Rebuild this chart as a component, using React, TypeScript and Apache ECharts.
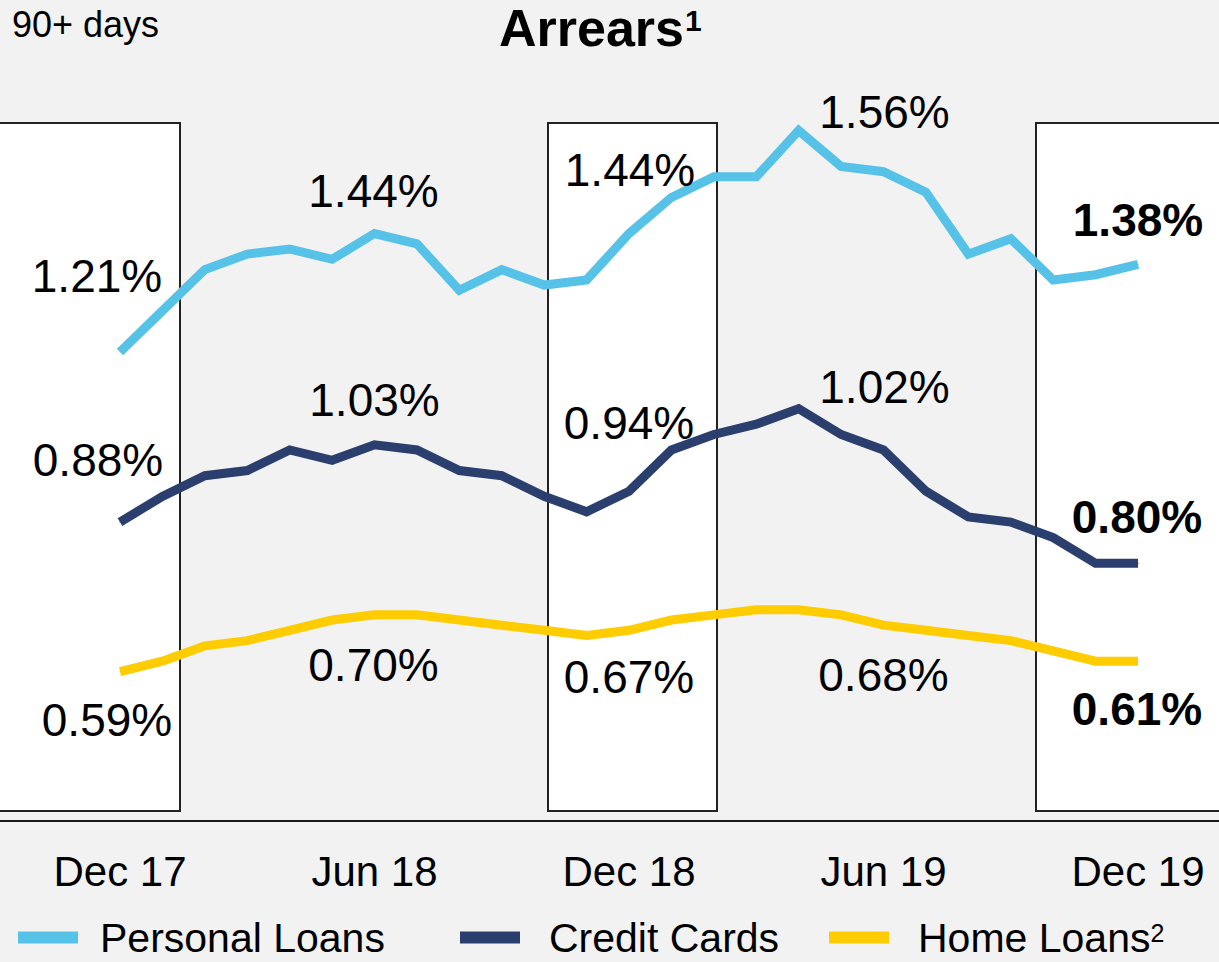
import React, { useEffect, useRef } from "react";
import * as echarts from "echarts";

// ---- Data (values in %) ----
const months = [
  "Dec 17", "Jan 18", "Feb 18", "Mar 18", "Apr 18", "May 18", "Jun 18",
  "Jul 18", "Aug 18", "Sep 18", "Oct 18", "Nov 18", "Dec 18",
  "Jan 19", "Feb 19", "Mar 19", "Apr 19", "May 19", "Jun 19",
  "Jul 19", "Aug 19", "Sep 19", "Oct 19", "Nov 19", "Dec 19",
];

const personalLoans = [
  1.21, 1.29, 1.37, 1.40, 1.41, 1.39, 1.44, 1.42, 1.33, 1.37, 1.34, 1.35, 1.44,
  1.51, 1.55, 1.55, 1.64, 1.57, 1.56, 1.52, 1.40, 1.43, 1.35, 1.36, 1.38,
];

const creditCards = [
  0.88, 0.93, 0.97, 0.98, 1.02, 1.00, 1.03, 1.02, 0.98, 0.97, 0.93, 0.90, 0.94,
  1.02, 1.05, 1.07, 1.10, 1.05, 1.02, 0.94, 0.89, 0.88, 0.85, 0.80, 0.80,
];

const homeLoans = [
  0.59, 0.61, 0.64, 0.65, 0.67, 0.69, 0.70, 0.70, 0.69, 0.68, 0.67, 0.66, 0.67,
  0.69, 0.70, 0.71, 0.71, 0.70, 0.68, 0.67, 0.66, 0.65, 0.63, 0.61, 0.61,
];

const seriesNames = ["Personal Loans", "Credit Cards", "Home Loans"];
const labelIndices = [0, 6, 12, 18, 24];

// ---- Layout / style ----
const FONT = "'Liberation Sans', Arial, Helvetica, sans-serif";
const COLORS = ["#57c2e8", "#2a3f6e", "#ffcc00"];
const plLabelOffsets = [[-23, -76], [-1, -43], [1, -64], [1, -60], [0, -44]];
const ccLabelOffsets = [[-22, -62], [0, -45], [0, -68], [1, -63], [-1, -46]];
const hlLabelOffsets = [[-13, 48], [-1, 50], [0, 47], [0, 50], [-1, 48]];

function buildData(values: number[], offsets: number[][]) {
  return values.map((v, i) => {
    const k = labelIndices.indexOf(i);
    if (k < 0) return v;
    return {
      value: v,
      label: {
        show: true,
        offset: offsets[k],
        fontWeight: i === values.length - 1 ? "bold" : "normal",
      },
    };
  });
}

function lineSeries(name: string, values: number[], offsets: number[][], color: string) {
  return {
    name,
    type: "line",
    data: buildData(values, offsets),
    color,
    symbol: "circle",
    symbolSize: 1,
    showSymbol: true,
    showAllSymbol: true,
    itemStyle: { color },
    lineStyle: { width: 9, color, join: "miter", cap: "butt" },
    label: {
      show: false,
      position: "inside",
      fontSize: 46,
      lineHeight: 46,
      fontFamily: FONT,
      color: "#000",
      formatter: (p: any) => Number(p.value).toFixed(2) + "%",
    },
    emphasis: { disabled: true },
    z: 5,
  };
}

function legendFor(name: string, left: number, textPad: number) {
  return {
    data: [name],
    left,
    top: 917,
    padding: 0,
    icon: "rect",
    itemWidth: 60,
    itemHeight: 12,
    selectedMode: false,
    formatter: (n: string) => (n === "Home Loans" ? "Home Loans{sup|2}" : n),
    textStyle: {
      fontSize: 41,
      lineHeight: 38,
      fontFamily: FONT,
      color: "#000",
      padding: [0, 0, 0, textPad],
      rich: {
        sup: { fontSize: 25, lineHeight: 25, fontFamily: FONT, color: "#000", padding: [0, 0, 9, 0] },
      },
    },
  };
}

export default function App() {
  const ref = useRef<HTMLDivElement>(null);

  useEffect(() => {
    document.body.style.margin = "0";
    if (!ref.current) return;
    const chart = echarts.init(ref.current, undefined, { renderer: "svg" });
    chart.setOption({
      animation: false,
      backgroundColor: "#f2f2f2",
      title: [
        {
          text: "90+ days",
          left: 12,
          top: 4,
          padding: 0,
          textStyle: { fontSize: 36, lineHeight: 40, fontWeight: "normal", fontFamily: FONT, color: "#000" },
        },
        {
          text: "Arrears{sup|1}",
          left: 499,
          top: -2,
          padding: 0,
          textStyle: {
            fontSize: 52,
            lineHeight: 60,
            fontWeight: "bold",
            fontFamily: FONT,
            color: "#000",
            rich: {
              sup: {
                fontSize: 30,
                lineHeight: 30,
                fontWeight: "bold",
                fontFamily: FONT,
                color: "#000",
                verticalAlign: "top",
                padding: [7, 0, 0, 1],
              },
            },
          },
        },
      ],
      legend: [
        legendFor(seriesNames[0], 18, 17),
        legendFor(seriesNames[1], 460, 24),
        legendFor(seriesNames[2], 829, 24),
      ],
      grid: { left: 120, right: 81, top: 48, bottom: 141, containLabel: false },
      xAxis: {
        type: "category",
        data: months,
        boundaryGap: false,
        axisLine: { show: false },
        axisTick: { show: false },
        splitLine: { show: false },
        axisLabel: {
          interval: 5,
          margin: 29,
          fontSize: 42,
          lineHeight: 42,
          fontFamily: FONT,
          color: "#000",
        },
      },
      yAxis: {
        type: "value",
        min: 0.3,
        max: 1.8,
        show: false,
        splitLine: { show: false },
      },
      graphic: [
        {
          type: "rect",
          z: 0,
          shape: { x: -1, y: 123, width: 181, height: 688 },
          style: { fill: "#ffffff", stroke: "#222222", lineWidth: 2 },
        },
        {
          type: "rect",
          z: 0,
          shape: { x: 548, y: 123, width: 169, height: 688 },
          style: { fill: "#ffffff", stroke: "#222222", lineWidth: 2 },
        },
        {
          type: "rect",
          z: 0,
          shape: { x: 1036, y: 123, width: 190, height: 688 },
          style: { fill: "#ffffff", stroke: "#222222", lineWidth: 2 },
        },
        {
          type: "line",
          z: 1,
          shape: { x1: 0, y1: 821, x2: 1219, y2: 821 },
          style: { stroke: "#1a1a1a", lineWidth: 2 },
        },
      ],
      series: [
        lineSeries(seriesNames[0], personalLoans, plLabelOffsets, COLORS[0]),
        lineSeries(seriesNames[1], creditCards, ccLabelOffsets, COLORS[1]),
        lineSeries(seriesNames[2], homeLoans, hlLabelOffsets, COLORS[2]),
      ],
    });
    return () => chart.dispose();
  }, []);

  return <div ref={ref} style={{ width: 1219, height: 962 }} />;
}
